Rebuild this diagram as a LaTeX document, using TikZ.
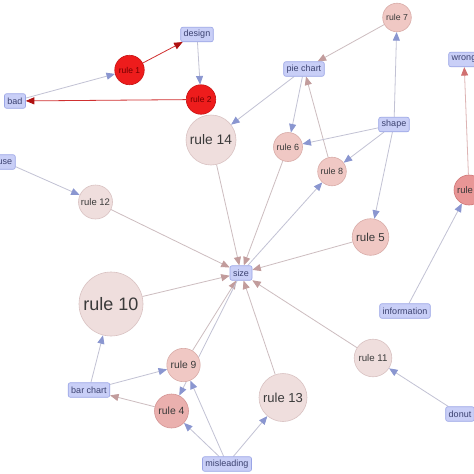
\documentclass[tikz,border=0pt]{standalone}
\usepackage{fontspec}
\setmainfont{Liberation Sans}
\usetikzlibrary{arrows.meta}
\pgfdeclarelayer{edges}
\pgfdeclarelayer{bg}
\pgfsetlayers{bg,edges,main}
\definecolor{boxfill}{HTML}{C9CFF7}
\definecolor{boxborder}{HTML}{9AA5E6}
\definecolor{boxtext}{HTML}{3C4270}
\definecolor{pinkA}{HTML}{EFDEDD}
\definecolor{pinkAb}{HTML}{D9C2C2}
\definecolor{pinkB}{HTML}{F0C8C4}
\definecolor{pinkBb}{HTML}{D9ACA8}
\definecolor{pinkC}{HTML}{EAB0AE}
\definecolor{pinkCb}{HTML}{D49494}
\definecolor{pinkD}{HTML}{E89696}
\definecolor{pinkDb}{HTML}{CF7676}
\definecolor{redN}{HTML}{EE1C1C}
\definecolor{redNb}{HTML}{C81212}
\definecolor{ruletext}{HTML}{3A3A3A}
\definecolor{edgeline}{HTML}{C2C2D4}
\definecolor{edgelineR}{HTML}{CDBDC0}
\definecolor{arrowblue}{HTML}{8A96D0}
\definecolor{arrowred}{HTML}{C29C9C}
\definecolor{redline}{HTML}{D03030}
\definecolor{redarrow}{HTML}{B01010}
\definecolor{pinkline}{HTML}{DDB4B4}
\tikzset{
  box/.style={draw=boxborder, fill=boxfill, rounded corners=2pt, text=boxtext,
    font=\fontsize{9}{9}\selectfont, inner xsep=3pt, inner ysep=0pt,
    minimum height=14.5pt, line width=0.6pt},
  rulenode/.style={circle, line width=0.6pt, inner sep=0pt, text=ruletext},
  ra/.style={rulenode, fill=pinkA, draw=pinkAb},
  rb/.style={rulenode, fill=pinkB, draw=pinkBb},
  rc/.style={rulenode, fill=pinkC, draw=pinkCb},
  rd/.style={rulenode, fill=pinkD, draw=pinkDb},
  rr/.style={rulenode, fill=redN, draw=redNb, text=red!45!black},
  be/.style={draw=edgeline, line width=0.8pt, -{Triangle[length=8.5pt,width=7pt,color=arrowblue]}},
  re/.style={draw=edgelineR, line width=0.8pt, -{Triangle[length=8.5pt,width=7pt,color=arrowred]}},
  rede/.style={draw=redline, line width=0.8pt, -{Triangle[length=8.5pt,width=7pt,color=redarrow]}},
  pe/.style={draw=pinkline, line width=0.8pt, -{Triangle[length=8.5pt,width=7pt,color=redarrow!60!white]}},
}
\newcommand{\fs}[1]{\fontsize{#1}{#1}\selectfont}
\begin{document}
\begin{tikzpicture}[x=1pt,y=-1pt]
\useasboundingbox (0,0) rectangle (474,474);
\clip (0,0) rectangle (474,474);
\begin{pgfonlayer}{bg}
\fill[white] (0,0) rectangle (474,474);
\end{pgfonlayer}
% boxes
\node[box] (design) at (197,34.5) {design};
\node[box] (bad) at (15,101) {bad};
\node[box] (pie) at (304,69) {pie chart};
\node[box] (wrong) at (464,59.5) {wrong};
\node[box] (shape) at (394,124.5) {shape};
\node[box] (use) at (5,162) {use};
\node[box] (size) at (241,273) {size};
\node[box] (info) at (405,311) {information};
\node[box] (bar) at (89,390) {bar chart};
\node[box] (donut) at (460,414) {donut};
\node[box] (mis) at (227,464) {misleading};
% rules
\node[rr, minimum size=29.5pt, font=\fs{8.5}] (r1) at (129.5,70) {rule 1};
\node[rr, minimum size=29.5pt, font=\fs{8.5}] (r2) at (201,99.5) {rule 2};
\node[ra, minimum size=50pt, font=\fs{13.8}] (r14) at (211,140) {rule 14};
\node[rb, minimum size=28.6pt, font=\fs{8.7}] (r7) at (397,17.5) {rule 7};
\node[rb, minimum size=29pt, font=\fs{9}] (r6) at (288,147) {rule 6};
\node[rb, minimum size=28.6pt, font=\fs{9}] (r8) at (332,171.5) {rule 8};
\node[ra, minimum size=34pt, font=\fs{9.5}] (r12) at (95.5,202) {rule 12};
\node[rd, minimum size=30pt, font=\fs{9.5}] (r3) at (469,190) {rule 3};
\node[rb, minimum size=36.6pt, font=\fs{11.5}] (r5) at (370.5,237) {rule 5};
\node[ra, minimum size=64pt, font=\fs{18}] (r10) at (111,304) {rule 10};
\node[ra, minimum size=37.6pt, font=\fs{9.7}] (r11) at (373,358) {rule 11};
\node[rb, minimum size=33.4pt, font=\fs{10.3}] (r9) at (183.5,365) {rule 9};
\node[rc, minimum size=34pt, font=\fs{10.4}] (r4) at (171.5,411) {rule 4};
\node[ra, minimum size=48pt, font=\fs{13}] (r13) at (283,397.5) {rule 13};
\begin{pgfonlayer}{edges}
\draw[be] (bad) -- (r1);
\draw[rede] (r1) -- (design);
\draw[be] (design) -- (r2);
\draw[rede] (r2) -- (bad);
\draw[re] (r7) -- (pie);
\draw[be] (shape) -- (r7);
\draw[be] (pie) -- (r14);
\draw[be] (pie) -- (r6);
\draw[re] (r8) -- (pie);
\draw[be] (shape) -- (r6);
\draw[be] (shape) -- (r8);
\draw[be] (shape) -- (r5);
\draw[re] (r14) -- (size);
\draw[re] (r6) -- (size);
\draw[be] (size) -- (r8);
\draw[re] (r5) -- (size);
\draw[be] (use) -- (r12);
\draw[re] (r12) -- (size);
\draw[re] (r10) -- (size);
\draw[re] (r9) -- (size);
\draw[be] (size) -- (r4);
\draw[re] (r13) -- (size);
\draw[re] (r11) -- (size);
\draw[be] (donut) -- (r11);
\draw[be] (info) -- (r3);
\draw[pe] (r3) -- (wrong);
\draw[be] (bar) -- (r10);
\draw[be] (bar) -- (r9);
\draw[re] (r4) -- (bar);
\draw[be] (mis) -- (r9);
\draw[be] (mis) -- (r4);
\draw[be] (mis) -- (r13);
\end{pgfonlayer}
\end{tikzpicture}
\end{document}
